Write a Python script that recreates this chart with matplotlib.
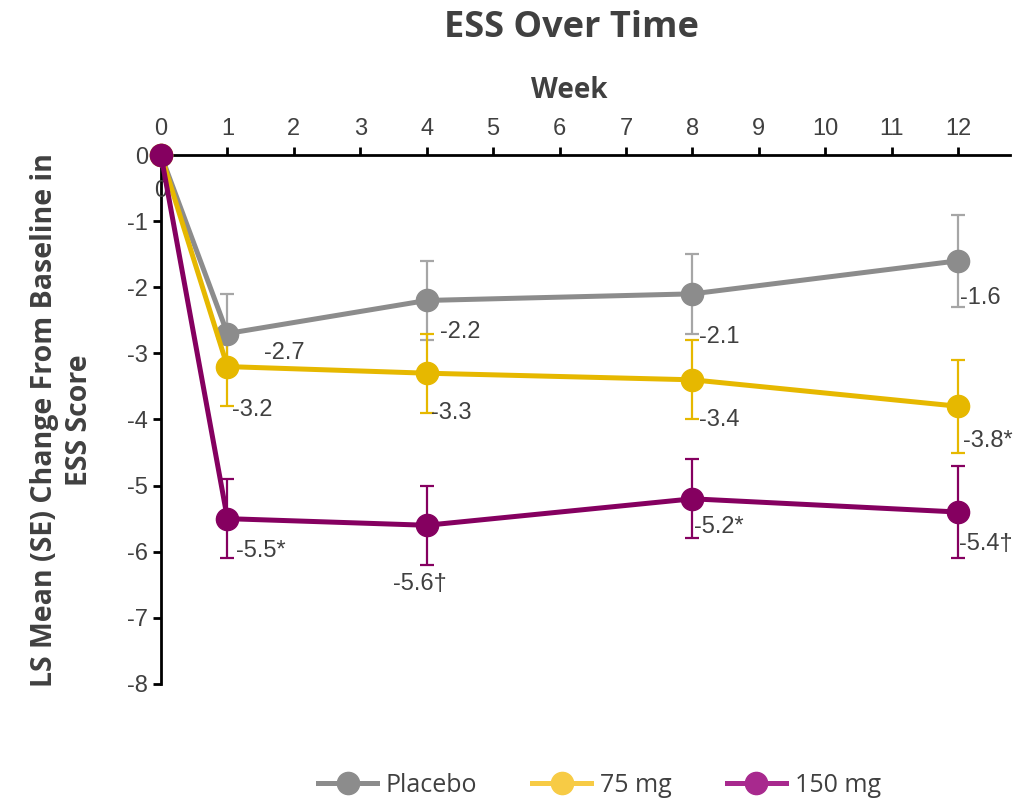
import matplotlib.pyplot as plt
from matplotlib.lines import Line2D

weeks = [0, 1, 4, 8, 12]

placebo = [0, -2.7, -2.2, -2.1, -1.6]
placebo_se = [0, 0.6, 0.6, 0.6, 0.7]
mg75 = [0, -3.2, -3.3, -3.4, -3.8]
mg75_se = [0, 0.6, 0.6, 0.6, 0.7]
mg150 = [0, -5.5, -5.6, -5.2, -5.4]
mg150_se = [0, 0.6, 0.6, 0.6, 0.7]

# significance marks next to the values
placebo_sig = ["", "", "", "", ""]
mg75_sig = ["", "", "", "", "*"]
mg150_sig = ["", "*", "\u2020", "*", "\u2020"]

# label offsets in points (dx, dy) per point
placebo_off = [(0, 0), (41, -14), (24, -23), (19, -31), (16, -27)]
mg75_off = [(0, 0), (18, -31), (18, -29), (19, -29), (21, -25)]
mg150_off = [(0, 0), (24, -23), (-5, -42), (19, -20), (20, -23)]

series = [
    ("Placebo", placebo, placebo_se, placebo_sig, placebo_off, "#8C8C8C", "#A6A6A6", "#8C8C8C"),
    ("75 mg", mg75, mg75_se, mg75_sig, mg75_off, "#E6B800", "#E6B800", "#F7CB45"),
    ("150 mg", mg150, mg150_se, mg150_sig, mg150_off, "#850060", "#850060", "#A8298E"),
]

num_size = 17

plt.rcParams['font.family'] = ['Liberation Sans', 'DejaVu Sans']
plt.rcParams['axes.unicode_minus'] = False

fig = plt.figure(figsize=(10.3, 7.99), dpi=100)
ax = fig.add_axes([0.1563, 0.144, 0.8243, 0.662])

handles = []
for i, (name, vals, se, sig, off, color, ecolor, lcolor) in enumerate(series):
    ax.errorbar(weeks[1:], vals[1:], yerr=se[1:], fmt="none", ecolor=ecolor,
                elinewidth=1.6, capsize=5, capthick=1.6, zorder=2 + i)
    ax.plot(weeks, vals, color=color, lw=3.6, marker="o", markersize=16,
            zorder=5 + i, clip_on=False)
    for w, v, s, (dx, dy) in zip(weeks[1:], vals[1:], sig[1:], off[1:]):
        ax.annotate(f"{v:.1f}{s}", (w, v), xytext=(dx, dy), textcoords="offset points",
                    ha="center", va="center", fontsize=num_size, color="#404040", zorder=10)
    handles.append(Line2D([0], [0], color=lcolor, lw=3.6, marker="o", markersize=16))

ax.annotate("0", (0, 0), xytext=(0, -26), textcoords="offset points",
            ha="center", va="center", fontsize=num_size, color="#404040", zorder=4)

ax.set_xlim(0, 12.78)
ax.set_ylim(-8, 0)
ax.set_xticks(range(0, 13))
ax.set_yticks(range(-8, 1))
ax.xaxis.tick_top()
ax.spines["bottom"].set_visible(False)
ax.spines["right"].set_visible(False)
ax.spines["top"].set_linewidth(2)
ax.spines["left"].set_linewidth(2)
ax.tick_params(axis="both", labelsize=num_size, labelcolor="#404040", width=2, length=6)
ax.tick_params(axis="x", pad=5)

fig.text(0.553, 0.887, "Week", fontsize=20, fontweight="bold", color="#404040",
         family="Open Sans", ha="center", va="center")
fig.text(0.06, 0.474, "LS Mean (SE) Change From Baseline in\nESS Score", fontsize=20.5,
         fontweight="bold", color="#404040", family="Open Sans", rotation=90,
         ha="center", va="center", linespacing=1.25)

fig.suptitle("ESS Over Time", fontsize=26, fontweight="bold", color="#404040",
             family="Open Sans", x=0.555, y=0.988)

fig.legend(handles, [s[0] for s in series], loc="lower center", ncol=3,
           bbox_to_anchor=(0.582, -0.027), frameon=False,
           handlelength=2.35, columnspacing=2.2, handletextpad=0.36,
           prop={"family": "Open Sans", "size": 18}, labelcolor="#404040")

fig.savefig("out.png", dpi=100)
